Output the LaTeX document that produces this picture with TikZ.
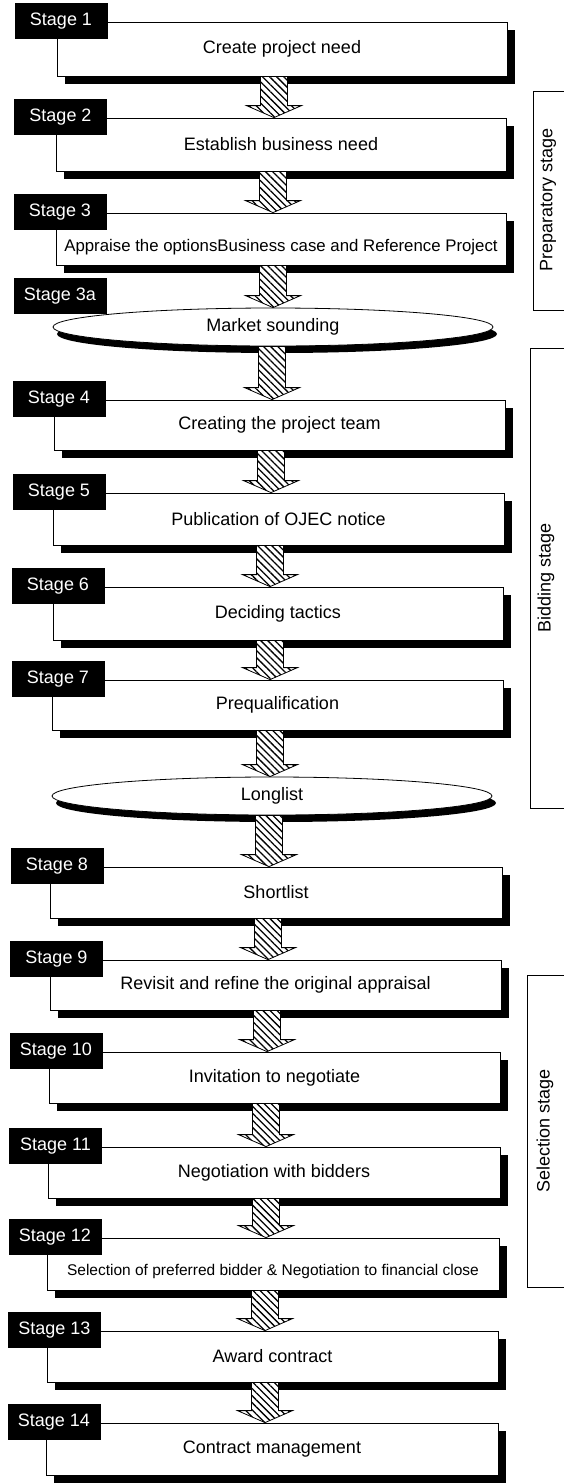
\documentclass[tikz,border=0pt]{standalone}
\usepackage{fontspec}
\setmainfont{Liberation Sans}
\usetikzlibrary{shapes.geometric,shadows,patterns.meta,calc}
\tikzset{
  txt/.style={font=\fontsize{18pt}{20pt}\selectfont},
  stagebox/.style={draw=black, line width=0.8pt, fill=white, rectangle, inner sep=0pt, txt,
    general shadow={fill=black, shadow xshift=8pt, shadow yshift=-8pt}},
  ovalbox/.style={draw=black, line width=0.8pt, fill=white, ellipse, inner sep=0pt,
    minimum width=440pt, minimum height=38pt, txt,
    general shadow={fill=black, shadow xshift=4pt, shadow yshift=-7pt}},
  stagelabel/.style={fill=black, text=white, minimum width=93pt, minimum height=36pt, inner sep=0pt, txt},
  hatcharrow/.style={draw=black, line width=0.8pt, preaction={fill=white},
    pattern={Lines[angle=-45,distance=5pt,line width=1.3pt]}, pattern color=black},
  bracketline/.style={draw=black, line width=1pt},
  brackettext/.style={rotate=90, txt},
}
\newcommand\hatcharr[3]{%
  \path[hatcharrow] let \p1=(#2.south), \p2=(#3.north) in
    (#1pt-13.5pt,\y1) -- (#1pt-13.5pt,\y2+12pt) -- (#1pt-27.5pt,\y2+12pt) -- (#1pt,\y2)
    -- (#1pt+27.5pt,\y2+12pt) -- (#1pt+13.5pt,\y2+12pt) -- (#1pt+13.5pt,\y1) -- cycle;
}
\newcommand\lowered[2]{\raisebox{-#1}[\height][\depth]{#2}}
\begin{document}
\begin{tikzpicture}[x=1pt,y=-1pt]
\useasboundingbox (0,0) rectangle (564,1483);

% boxes
\node[stagebox, minimum width=450pt, minimum height=54pt] (b1) at (282,49) {Create project need};
\node[stagebox, minimum width=450pt, minimum height=53pt] (b2) at (281,144.5) {Establish business need};
\node[stagebox, minimum width=450pt, minimum height=52pt, font=\fontsize{16.8pt}{19pt}\selectfont] (b3) at (281,239) {\lowered{8pt}{Appraise the optionsBusiness case and Reference Project}};
\node[ovalbox] (e3a) at (273,327) {Market sounding};
\node[stagebox, minimum width=451pt, minimum height=50pt] (b4) at (279.5,425) {Creating the project team};
\node[stagebox, minimum width=451pt, minimum height=52pt] (b5) at (278.5,519) {Publication of OJEC notice};
\node[stagebox, minimum width=450pt, minimum height=53pt] (b6) at (278,613.5) {Deciding tactics};
\node[stagebox, minimum width=451pt, minimum height=50pt] (b7) at (277.5,705) {Prequalification};
\node[ovalbox] (ell) at (272,796) {Longlist};
\node[stagebox, minimum width=452pt, minimum height=51pt] (b8) at (276,892.5) {Shortlist};
\node[stagebox, minimum width=451pt, minimum height=50pt] (b9) at (275.5,985) {Revisit and refine the original appraisal};
\node[stagebox, minimum width=451pt, minimum height=51pt] (b10) at (274.5,1077.5) {Invitation to negotiate};
\node[stagebox, minimum width=452pt, minimum height=51pt] (b11) at (274,1172.5) {Negotiation with bidders};
\node[stagebox, minimum width=452pt, minimum height=52pt, font=\fontsize{15.5pt}{18pt}\selectfont] (b12) at (273,1264) {\lowered{7pt}{Selection of preferred bidder \& Negotiation to financial close}};
\node[stagebox, minimum width=451pt, minimum height=51pt] (b13) at (272.5,1356.5) {Award contract};
\node[stagebox, minimum width=452pt, minimum height=52pt] (b14) at (272,1449) {Contract management};

% arrows
\hatcharr{274}{b1}{b2}
\hatcharr{273}{b2}{b3}
\hatcharr{273}{b3}{e3a}
\hatcharr{272}{e3a}{b4}
\hatcharr{271}{b4}{b5}
\hatcharr{270}{b5}{b6}
\hatcharr{270}{b6}{b7}
\hatcharr{270}{b7}{ell}
\hatcharr{269}{ell}{b8}
\hatcharr{268}{b8}{b9}
\hatcharr{267}{b9}{b10}
\hatcharr{266}{b10}{b11}
\hatcharr{266}{b11}{b12}
\hatcharr{265}{b12}{b13}
\hatcharr{265}{b13}{b14}

% stage labels
\node[stagelabel] (l1) at (61,21) {Stage 1};
\node[stagelabel] (l2) at (60.5,117) {Stage 2};
\node[stagelabel] (l3) at (60,212) {Stage 3};
\node[stagelabel] (l3a) at (60,296) {Stage 3a};
\node[stagelabel] (l4) at (59,399) {Stage 4};
\node[stagelabel] (l5) at (59,492) {Stage 5};
\node[stagelabel] (l6) at (58,586) {Stage 6};
\node[stagelabel] (l7) at (58,679) {Stage 7};
\node[stagelabel] (l8) at (57,866) {Stage 8};
\node[stagelabel] (l9) at (56.5,959) {Stage 9};
\node[stagelabel] (l10) at (56,1051) {Stage 10};
\node[stagelabel] (l11) at (55.5,1146) {Stage 11};
\node[stagelabel] (l12) at (55,1237) {Stage 12};
\node[stagelabel] (l13) at (54.5,1330) {Stage 13};
\node[stagelabel] (l14) at (54,1422) {Stage 14};

% phase brackets
\draw[bracketline] (564,91) -- (533,91) -- (533,310) -- (564,310);
\node[brackettext] (tprep) at (548,200) {Preparatory stage};
\draw[bracketline] (564,348) -- (530,348) -- (530,808) -- (564,808);
\node[brackettext] (tbid) at (546,578) {Bidding stage};
\draw[bracketline] (564,975) -- (527,975) -- (527,1287) -- (564,1287);
\node[brackettext] (tsel) at (545,1131) {Selection stage};
\end{tikzpicture}
\end{document}
